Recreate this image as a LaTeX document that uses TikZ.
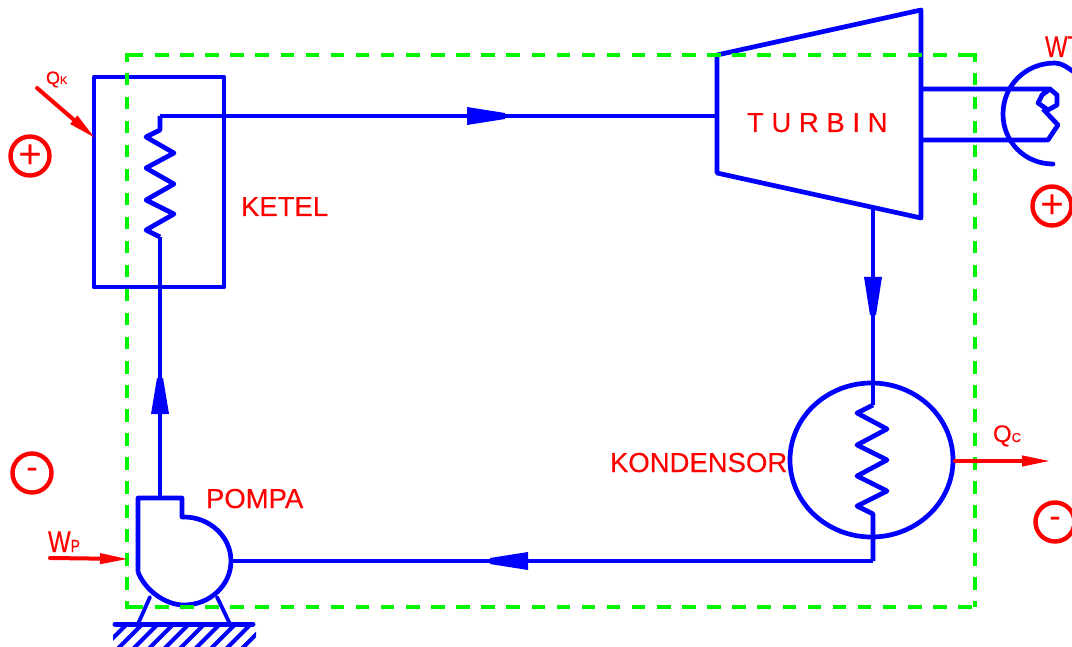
\documentclass[tikz,border=0pt]{standalone}
\usepackage{fontspec}
\setmainfont{Liberation Sans}[FakeBold=0.25]
\usetikzlibrary{arrows.meta,decorations.markings,shapes.geometric}
\definecolor{pipeblue}{RGB}{0,0,255}
\definecolor{sysgreen}{RGB}{0,245,0}
\definecolor{heatred}{RGB}{255,0,0}
\newcommand{\fs}[1]{\fontsize{#1}{#1}\selectfont}
\tikzset{
  pipe/.style={draw=pipeblue,line width=4.7pt,line join=round},
  thinpipe/.style={draw=pipeblue,line width=3.8pt,line join=round,line cap=round},
  flowmark/.style 2 args={decoration={markings,mark=at position #1pt with {\fill[pipeblue] (-#2pt,-9pt) -- (0pt,-3pt) -- (0pt,3pt) -- (-#2pt,9pt) -- cycle;}},postaction={decorate}},
  hboundary/.style={draw=sysgreen,line width=4pt,dash pattern=on 13.5pt off 11.6pt},
  vboundary/.style={draw=sysgreen,line width=4pt,dash pattern=on 12.5pt off 11.5pt},
  corner/.style={draw=sysgreen,line width=4pt,line join=miter},
  heat/.style={draw=heatred,line width=4pt,line cap=round,-{Triangle[length=29pt,width=10pt,fill=heatred]},shorten >=-1pt},
  lbl/.style={text=heatred,inner sep=0,outer sep=0,anchor=base west,font=\fs{27.5}},
  signc/.style={circle,draw=heatred,line width=4.4pt,minimum size=39pt,inner sep=0,outer sep=0,text=heatred},
}
\begin{document}
\begin{tikzpicture}[x=1pt,y=-1pt]
\useasboundingbox (0,0) rectangle (1072,647);
\clip (0,0) rectangle (1072,647);

% ketel
\node[pipe,rectangle,minimum width=130pt,minimum height=210pt,inner sep=0,outer sep=0] (ketel) at (159,182) {};
\coordinate (kin) at (160,237);
\coordinate (kout) at (160,130);
\coordinate (ktop) at (160,116);
\draw[pipe] (kin) -- (146,230) -- (174,214) -- (146,200) -- (174,184) -- (146,168) -- (174,153) -- (146,137) -- (kout) -- (ktop);

% turbine
\coordinate (t1) at (717,55);
\coordinate (t2) at (921,10);
\coordinate (t3) at (921,218);
\coordinate (t4) at (717,173);
\coordinate (tin) at (717,116);
\coordinate (tout) at (873,208);
\draw[pipe] (t1) -- (t2) -- (t3) -- (t4) -- cycle;
\draw[pipe,flowmark={345}{38}] (ktop) -- (tin);

% condenser
\node[pipe,ellipse,minimum width=163pt,minimum height=154pt,inner sep=0,outer sep=0] (kond) at (871.5,460) {};
\coordinate (cin) at (873,405);
\coordinate (cout) at (873,514);
\coordinate (ccorner) at (873,561);
\draw[pipe,flowmark={107}{38}] (tout) -- (cin);
\draw[pipe] (cin) -- (857,413) -- (887,429) -- (857,445) -- (887,460) -- (857,476) -- (887,491) -- (857,506) -- (cout) -- (ccorner);

% pump
\coordinate (pout) at (160,498);
\coordinate (pin) at (231,561);
\draw[pipe] (138,572) -- (138,498) -- (182,498) -- (182,517) -- (184,517)
  .. controls (210,517) and (231,537) .. (pin)
  .. controls (231,585) and (210,605) .. (184,605)
  .. controls (165,605) and (145,590) .. (138,572);
\draw[pipe,flowmark={383}{38}] (ccorner) -- (pin);
\draw[pipe,flowmark={120}{36}] (pout) -- (kin);

% pump base
\coordinate (bl) at (115,624);
\coordinate (br) at (253,624);
\draw[thinpipe] (150,597) -- (138,624);
\draw[thinpipe] (217,597) -- (230,624);
\draw[pipe,line width=5pt,line cap=round] (bl) -- (br);
\begin{scope}
  \clip (113,624) rectangle (256,647);
  \foreach \k in {0,...,9} {
    \draw[pipeblue,line width=4.2pt,line cap=round] ({127+15.5*\k},624) -- ++(-30,30);
  }
\end{scope}

% shaft / generator
\coordinate (s1) at (921,89);
\coordinate (s2) at (921,140);
\coordinate (e1) at (1050,89);
\coordinate (e2) at (1048,140);
\draw[pipe] (s1) -- (e1) -- (1057,95) -- (1057,105) -- (1048,110) -- (1038,103) -- (1042,95) -- (e1);
\draw[pipe] (s2) -- (e2) -- (1058,125) -- (1043,109);
\draw[pipe,line cap=round] (1053,164) .. controls (1025,164) and (1003,142) .. (1003,114)
  .. controls (1003,86) and (1025,63) .. (1055,63)
  .. controls (1062,63) and (1068,68) .. (1074,72);

% control volume
\coordinate (vtl) at (127,55);
\coordinate (vtr) at (975,55);
\coordinate (vbl) at (127,607);
\coordinate (vbr) at (975,607);
\draw[corner] (127,62) -- (vtl) -- (143,55);
\draw[corner] (968,55) -- (vtr) -- (975,62);
\draw[corner] (127,601) -- (vbl) -- (143,607);
\draw[hboundary] (155,55) -- (vtr);
\draw[hboundary] (155,607) -- (vbr);
\draw[vboundary] (127,73) -- (vbl);
\draw[vboundary] (975,73) -- (vbr);

% heat and work arrows
\coordinate (qkt) at (37,88);
\coordinate (qkh) at (95,138);
\coordinate (wpt) at (50,558);
\coordinate (wph) at (128,559);
\coordinate (qct) at (955,461);
\coordinate (qch) at (1050,461);
\draw[heat] (qkt) -- (qkh);
\draw[heat] (wpt) -- (wph);
\draw[heat] (qct) -- (qch);

% labels
\node[lbl] (lket) at (241,216) {KETEL};
\node[lbl] (ltur) at (747,132) {T U R B I N};
\node[lbl] (lpom) at (206,508) {POMPA};
\node[lbl] (lkon) at (610,472) {KONDENSOR};
\node[lbl,font=\fs{18}] (lqk) at (46,84) {Q{\fs{11}K}};
\node[lbl,font=\fs{24}] (lqc) at (993,442) {Q{\fs{13}C}};
\node[lbl,font=\fs{24},yscale=1.25] (lwp) at (48,552) {W{\fs{14}P}};
\node[lbl,font=\fs{24},yscale=1.25] (lwt) at (1045,57) {WT};

% signs
\node[signc,font=\fs{40}] (sa) at (30,156) {\raisebox{-2pt}{+}};
\node[signc,font=\fs{34}] (sb) at (32,473) {\raisebox{-5pt}{-}};
\node[signc,font=\fs{40}] (sc) at (1052,206) {\raisebox{-2pt}{+}};
\node[signc,font=\fs{34}] (sd) at (1055,522) {\raisebox{-5pt}{-}};
\end{tikzpicture}
\end{document}
